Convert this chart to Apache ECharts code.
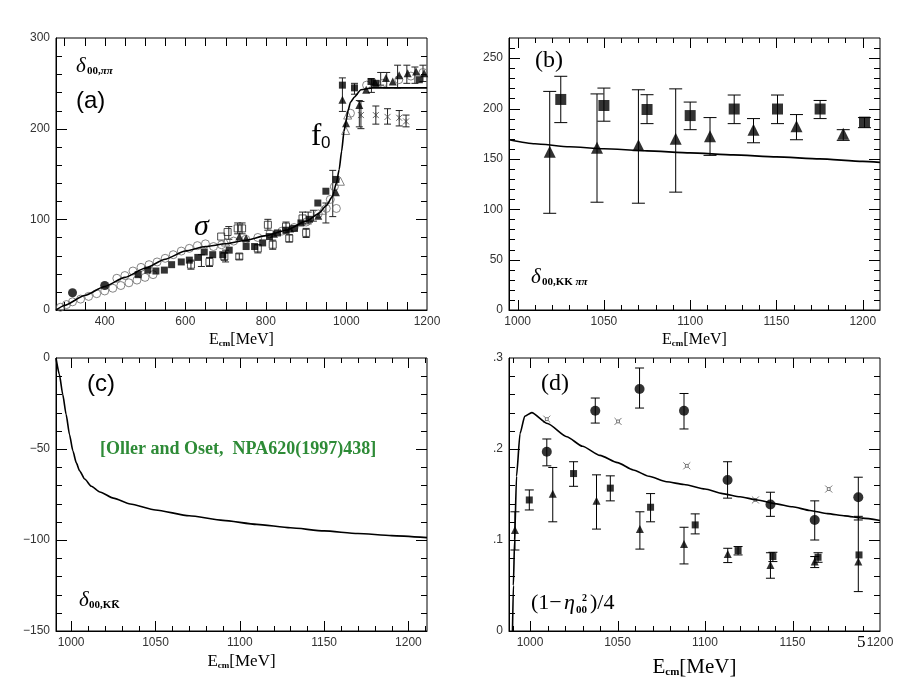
<!DOCTYPE html>
<html><head><meta charset="utf-8">
<script src="https://cdn.jsdelivr.net/npm/echarts@6/dist/echarts.min.js"></script>
<style>html,body{margin:0;padding:0;background:#fff}#c{width:920px;height:690px}</style>
</head><body><div id="c"></div>
<script>
// ---------------- DATA ----------------
// Panel (a): delta_00 pi pi
const aCurveE = [279,300,350,400,450,500,550,600,650,700,750,800,850,900,930,950,965,975,982,988,994,999,1004,1010,1020,1036,1065,1100,1150,1200];
const aCurveV = [0,5,16,26,36,46,56,65,70,73,77,82,88,98,106,115,125,140,155,175,197,208,220,229,235,243,245,245,245,245];
const aFilledCircles = [[320,19],[400,27]];
const aOpenCircles = [[290,3],[305,6],[320,9],[340,12],[360,15],[380,18],[400,21],[420,24],[440,27],[460,30],[480,33],[500,36],[520,39],
  [430,35],[450,38],[470,43],[490,47],[510,50],[530,53],[550,57],[570,61],[590,65],[610,68],[630,71],[650,73],[670,70],[690,72],[720,76],
  [750,78],[780,80],[810,84],[840,87],[870,91],[900,97],[930,106],[950,112],[960,122],[970,136],[975,112],[1010,217],[1050,248],[1090,250],
  [1130,254],[1160,258],[1190,262]];
const aFilledSquares = [[483,39],[507,44],[527,43],[548,44],[566,50],[590,53],[610,55],[631,58],[647,64],[668,61],[693,61],[709,66],[751,70],
  [772,70],[792,74],[809,81],[829,85],[850,88],[871,90],[887,96],[908,100],[929,118],[949,131],[974,144],[990,248],[1020,245],[1061,252],[1073,250],[1181,254]];
const aFilledTriangles = [[734,81],[751,79],[820,84],[860,90],[930,104],[974,130],[990,232],[999,206],[1032,226],[1049,243],[1071,251],
  [1098,256],[1115,252],[1131,259],[1152,261],[1173,263],[1193,261]];
const aOpenSquares = [[614,50],[660,53],[689,81],[697,59],[705,86],[730,90],[741,90],[734,59],[780,68],[805,94],[817,72],[850,92],[858,79],[891,101],[900,85]];
const aOpenTriangles = [[985,142],[998,198],[1003,215],[940,110],[700,75]];
const aCrosses = [[1036,215],[1073,215],[1102,213],[1131,212],[1148,208]];
const aErrBars = [[990,219,256],[1020,238,250],[1032,202,231],[966,103,154],[949,96,118],[905,95,108],[918,98,110],[1100,245,262],
  [1127,245,270],[1150,250,270],[1170,250,268],[1190,252,270],[1062,240,255],[1085,248,262],[708,78,92],[730,84,96],[741,84,96],
  [805,88,100],[850,85,97],[891,95,108],[614,45,55],[660,48,58],[697,55,63],[734,56,62],[780,63,72],[817,67,77],[858,75,83],[900,80,90],
  [700,53,66],[640,48,61],[1036,200,230],[1073,205,225],[1102,205,222],[1131,203,220],[1148,202,215]];

// Panel (b): delta_00 KK->pipi
const bCurveE = [995,1010,1030,1050,1075,1100,1125,1150,1175,1200,1210];
const bCurveV = [169,165,162,160,158,156,154,152,150,147.5,146.5];
const bTriangles = [[1018.6,157],[1046,161],[1070,163.5],[1091.6,170],[1111.5,172.4],[1136.7,179],[1161.6,182.3],[1188.7,175]];
const bTriErr = [[1018.6,96,217],[1046,107,214.5],[1070,106,218.6],[1091.6,117,219.5],[1111.5,153.5,191],[1136.7,166,190],[1161.6,169,194],[1188.7,168.4,179]];
const bSquares = [[1025,209],[1050,203],[1075,199],[1100,193],[1125.5,199.5],[1150.6,199.5],[1175.3,199.5],[1201,186.5]];
const bSqErr = [[1025,186,232],[1050,187.4,220.3],[1075,185,213.7],[1100,179,206.4],[1125.5,185,213.4],[1150.6,185,213.4],[1175.3,190,208],[1201,181,191]];

// Panel (c): delta_00 KKbar
const cCurveE = [991,993,995,997,999,1001,1003,1005,1008,1012,1017,1025,1035,1050,1070,1090,1110,1130,1150,1170,1190,1211];
const cCurveV = [0,-9,-20,-31,-42,-51,-57.5,-62,-66.5,-70.5,-73.6,-77,-80.2,-83.5,-86.7,-89.2,-91.4,-93.3,-95,-96.4,-97.6,-98.7];

// Panel (d): (1-eta^2)/4
const dCurveE = [990,990.5,991.2,992.3,994.3,997,1001,1010,1021,1030,1040,1050,1059,1068,1078,1088,1100,1110,1120,1130,1140,1150,1160,1170,1180,1190,1200];
const dCurveV = [0,0.05,0.1,0.17,0.217,0.236,0.240,0.228,0.2135,0.203,0.193,0.185,0.177,0.170,0.164,0.161,0.156,0.151,0.1475,0.144,0.140,0.1365,0.1325,0.129,0.1265,0.124,0.1215];
const dCircles = [[1009.6,0.197],[1037.3,0.242],[1062.6,0.266],[1088,0.242],[1112.9,0.166],[1137.4,0.139],[1162.7,0.122],[1187.6,0.147]];
const dCircErr = [[1009.6,0.1815,0.211],[1037.3,0.2285,0.256],[1062.6,0.245,0.289],[1088,0.222,0.261],[1112.9,0.146,0.186],[1137.4,0.126,0.1525],[1162.7,0.100,0.143],[1187.6,0.122,0.169]];
const dSquares = [[999.6,0.144],[1024.9,0.173],[1045.9,0.157],[1068.9,0.136],[1094.4,0.1166],[1118.9,0.0884],[1138.8,0.0818],[1164.6,0.081],[1188,0.0836]];
const dSqErr = [[999.6,0.133,0.155],[1024.9,0.159,0.186],[1045.9,0.143,0.1705],[1068.9,0.120,0.151],[1094.4,0.1067,0.1287],[1118.9,0.0836,0.0928],[1138.8,0.0763,0.0865],[1164.6,0.0755,0.086]];
const dTriangles = [[991.4,0.111],[1013,0.1507],[1038,0.143],[1062.8,0.112],[1088,0.0957],[1113,0.0847],[1137.4,0.0726],[1162.7,0.0763],[1187.6,0.0763]];
const dTriErr = [[991.4,0.089,0.131],[1013,0.120,0.1797],[1038,0.112,0.1716],[1062.8,0.090,0.131],[1088,0.0737,0.114],[1113,0.0752,0.0909],[1137.4,0.058,0.086],[1162.7,0.0697,0.0818],[1187.6,0.0433,0.126]];
const dStars = [[1009.6,0.2328],[1050.3,0.2303],[1089.6,0.1815],[1128.8,0.144],[1170.7,0.156]];

// tick label values
const aXLabels = [400,600,800,1000,1200], aYLabels = [0,100,200,300];
const bXLabels = [1000,1050,1100,1150,1200], bYLabels = [0,50,100,150,200,250];
const cXLabels = [1000,1050,1100,1150,1200], cYLabels = [-150,-100,-50,0];
const dXLabels = [1000,1050,1100,1150,1200], dYLabels = [0,0.1,0.2,0.3];

// ---------------- BUILD ----------------
function range(a,b,s){const r=[];for(let v=a;v<=b+1e-9;v+=s)r.push(+v.toFixed(6));return r;}
function zip(e,v){return e.map((x,i)=>[x,v[i]]);}

const black = '#000';
const labelStyle = {color:'#333', fontFamily:'Liberation Sans', fontSize:12};
const xAxes=[], yAxes=[];
function axName(size, sub){
  return {
    name:'{a|E}{b|cm}{a|[MeV]}', nameLocation:'middle', nameGap: size>18?26:22,
    nameTextStyle:{rich:{a:{fontFamily:'Liberation Serif', fontSize:size, color:'#000'},
                         b:{fontFamily:'Liberation Serif', fontSize:sub, fontWeight:'bold', color:'#000', padding:[size*0.45,0,0,0]}}}
  };
}
function addAxis(list, g, min, max, labels, pos, extra, fmt){
  list.push(Object.assign({type:'value', gridIndex:g, min, max, position:pos, splitLine:{show:false}, axisPointer:{show:false},
    axisLine:{show:true, onZero:false, lineStyle:{color:black, width:1}},
    axisTick:{show:false},
    axisLabel:Object.assign({show:true, customValues:labels, margin:6, formatter:fmt||(v=>String(v))}, labelStyle)}, extra||{}));
  return list.length-1;
}
const minusFmt = v => String(v).replace('-', '\u2212');
const dFmt = v => v===0 ? '0' : '.' + Math.round(v*10);

const ax0 = addAxis(xAxes,0,279,1200,aXLabels,'bottom',axName(16,9));
const ay0 = addAxis(yAxes,0,0,300,aYLabels,'left');
const ax1 = addAxis(xAxes,1,995,1210,bXLabels,'bottom',axName(16,9));
const ay1 = addAxis(yAxes,1,0,270,bYLabels,'left');
const ax2 = addAxis(xAxes,2,991,1211,cXLabels,'bottom',axName(17,9));
const ay2 = addAxis(yAxes,2,-150,0,cYLabels,'left',null,minusFmt);
const ax3 = addAxis(xAxes,3,988,1200,dXLabels,'bottom',axName(21,11));
const ay3 = addAxis(yAxes,3,0,0.3,dYLabels,'left',null,dFmt);

// inward ticks on all four sides, placed through the axes' scales
function tickSeries(xi, yi, dim, values, other, len){
  return {type:'custom', xAxisIndex:xi, yAxisIndex:yi, silent:true, z:2,
    data: values.map(v => dim==='x' ? [v, other] : [other, v]),
    encode: {x:0, y:1},
    renderItem:(params, api)=>{
      const cs = params.coordSys;
      const p = api.coord([api.value(0), api.value(1)]);
      const st = {stroke:black, lineWidth:1};
      if (dim==='x'){
        const x = Math.round(p[0])+0.5, yb = cs.y+cs.height, yt = cs.y;
        return {type:'group', children:[
          {type:'line', shape:{x1:x,y1:yb,x2:x,y2:yb-len}, style:st},
          {type:'line', shape:{x1:x,y1:yt,x2:x,y2:yt+len}, style:st}]};
      } else {
        const y = Math.round(p[1])+0.5, xl = cs.x, xr = cs.x+cs.width;
        return {type:'group', children:[
          {type:'line', shape:{x1:xl,y1:y,x2:xl+len,y2:y}, style:st},
          {type:'line', shape:{x1:xr,y1:y,x2:xr-len,y2:y}, style:st}]};
      }
    }};
}

function errSeries(data, xi, yi, cap, color){
  return {type:'custom', xAxisIndex:xi, yAxisIndex:yi, data, encode:{x:0, y:[1,2]}, z:3, silent:true,
    renderItem:(params, api)=>{
      const x=api.value(0), lo=api.value(1), hi=api.value(2);
      const p1=api.coord([x,lo]), p2=api.coord([x,hi]);
      const st={stroke:color||black, lineWidth:1};
      return {type:'group', children:[
        {type:'line', shape:{x1:p1[0],y1:p1[1],x2:p2[0],y2:p2[1]}, style:st},
        {type:'line', shape:{x1:p1[0]-cap/2,y1:p1[1],x2:p1[0]+cap/2,y2:p1[1]}, style:st},
        {type:'line', shape:{x1:p2[0]-cap/2,y1:p2[1],x2:p2[0]+cap/2,y2:p2[1]}, style:st}
      ]};
    }};
}
function scat(data, xi, yi, symbol, size, style, z){
  return {type:'scatter', xAxisIndex:xi, yAxisIndex:yi, data, symbol, symbolSize:size, itemStyle:style, z:z||4, silent:true};
}
function curve(e, v, xi, yi, w){
  return {type:'line', xAxisIndex:xi, yAxisIndex:yi, data:zip(e,v), showSymbol:false, smooth:0.2, smoothMonotone:'x',
          lineStyle:{color:black, width:w||1.6}, z:5, silent:true};
}
const fill = {color:black};
const hollowGray = {color:'rgba(0,0,0,0)', borderColor:'#666', borderWidth:1};
const hollowBlack = {color:'rgba(0,0,0,0)', borderColor:'#222', borderWidth:1};
const crossPath = 'path://M0,0L10,10M10,0L0,10M5,0L5,10';
const starPath = 'path://M3,3L7,3L7,7L3,7Z M0,0L3,3 M10,0L7,3 M10,10L7,7 M0,10L3,7';

const series = [
  // ticks
  tickSeries(ax0, ay0, 'x', range(300,1150,50), 0, 8),
  tickSeries(ax0, ay0, 'y', range(100,200,100), 279, 11),
  tickSeries(ax0, ay0, 'y', range(20,280,20), 279, 6),
  tickSeries(ax1, ay1, 'x', range(1000,1200,50), 0, 10),
  tickSeries(ax1, ay1, 'x', range(1010,1200,10), 0, 5),
  tickSeries(ax1, ay1, 'y', range(50,250,50), 995, 11),
  tickSeries(ax1, ay1, 'y', range(10,260,10), 995, 6),
  tickSeries(ax2, ay2, 'x', range(1000,1200,50), -150, 10),
  tickSeries(ax2, ay2, 'x', range(1010,1210,10), -150, 5),
  tickSeries(ax2, ay2, 'y', range(-100,-50,50), 991, 11),
  tickSeries(ax2, ay2, 'y', range(-140,-10,10), 991, 6),
  tickSeries(ax3, ay3, 'x', range(1000,1150,50), 0, 10),
  tickSeries(ax3, ay3, 'x', range(990,1190,10), 0, 5),
  tickSeries(ax3, ay3, 'y', [0.1,0.2], 988, 11),
  tickSeries(ax3, ay3, 'y', range(0.02,0.28,0.02), 988, 6),
  // (a)
  errSeries(aErrBars, ax0, ay0, 7, '#222'),
  scat(aOpenCircles, ax0, ay0, 'circle', 8, hollowGray),
  scat(aOpenSquares, ax0, ay0, 'rect', 7, hollowBlack),
  scat(aOpenTriangles, ax0, ay0, 'triangle', 8, hollowGray),
  scat(aCrosses, ax0, ay0, crossPath, 6, {color:'rgba(0,0,0,0)', borderColor:'#444', borderWidth:1}),
  scat(aFilledSquares, ax0, ay0, 'rect', 7, fill),
  scat(aFilledTriangles, ax0, ay0, 'triangle', 8, fill),
  scat(aFilledCircles, ax0, ay0, 'circle', 9, fill),
  curve(aCurveE, aCurveV, ax0, ay0, 1.6),
  // (b)
  errSeries(bTriErr, ax1, ay1, 13),
  errSeries(bSqErr, ax1, ay1, 13),
  scat(bTriangles, ax1, ay1, 'triangle', 12, fill),
  scat(bSquares, ax1, ay1, 'rect', 11, fill),
  curve(bCurveE, bCurveV, ax1, ay1, 1.6),
  // (c)
  curve(cCurveE, cCurveV, ax2, ay2, 1.6),
  // (d)
  errSeries(dCircErr, ax3, ay3, 9),
  errSeries(dSqErr, ax3, ay3, 9),
  errSeries(dTriErr, ax3, ay3, 9),
  scat(dCircles, ax3, ay3, 'circle', 10, fill),
  scat(dSquares, ax3, ay3, 'rect', 7, fill),
  scat(dTriangles, ax3, ay3, 'triangle', 8, fill),
  scat(dStars, ax3, ay3, starPath, 7, {color:'rgba(0,0,0,0)', borderColor:'#555', borderWidth:1}),
  curve(dCurveE, dCurveV, ax3, ay3, 1.6)
];

function txt(x, y, text, font, extra){
  return {type:'text', x, y, z:100, style:Object.assign({text, font, fill:'#000', textAlign:'left', textVerticalAlign:'top'}, extra||{})};
}
const subRich = {n:{font:'bold 11px "Liberation Serif"', fill:'#000'}, p:{font:'italic bold 11px "Liberation Serif"', fill:'#000'}};
const graphic = [
  // (a)
  txt(76, 56, '\u03b4', 'italic 21px "Liberation Serif"'),
  txt(87, 66, '{n|00,}{p|\u03c0\u03c0}', '', {rich:subRich}),
  txt(76, 89, '(a)', '24px "Liberation Sans"'),
  txt(311, 121, 'f', '31px "Liberation Serif"'),
  txt(321, 135, '0', '17px "Liberation Sans"'),
  txt(194, 212, '\u03c3', 'italic 30px "Liberation Serif"'),
  // (b)
  txt(531, 267, '\u03b4', 'italic 21px "Liberation Serif"'),
  txt(542, 277, '{n|00,KK }{p|\u03c0\u03c0}', '', {rich:subRich}),
  txt(535, 49, '(b)', '24px "Liberation Serif"'),
  // (c)
  txt(87, 372, '(c)', '24px "Liberation Sans"'),
  txt(79, 590, '\u03b4', 'italic 21px "Liberation Serif"'),
  txt(89, 600, '{n|00,KK\u0305}', '', {rich:subRich}),
  txt(100, 440, '[Oller and Oset,  NPA620(1997)438]', 'bold 18px "Liberation Serif"', {fill:'#2e8b37'}),
  // (d)
  txt(541, 372, '(d)', '24px "Liberation Serif"'),
  txt(531, 592, '(1\u2212', '22px "Liberation Serif"'),
  txt(564, 592, '\u03b7', 'italic 22px "Liberation Serif"'),
  txt(582, 593, '2', 'bold 10px "Liberation Serif"'),
  txt(576, 605, '00', 'bold 11px "Liberation Serif"'),
  txt(590, 592, ')/4', '22px "Liberation Serif"'),
  txt(857, 634, '5', '17px "Liberation Serif"')
];

const chart = echarts.init(document.getElementById('c'), null, {renderer:'canvas'});
chart.setOption({
  animation:false,
  backgroundColor:'#fff',
  grid:[
    {left:56, top:38, width:371, height:272, show:true, borderColor:black, borderWidth:1, backgroundColor:'rgba(0,0,0,0)'},
    {left:509, top:38, width:371, height:272, show:true, borderColor:black, borderWidth:1, backgroundColor:'rgba(0,0,0,0)'},
    {left:56, top:358, width:371, height:273, show:true, borderColor:black, borderWidth:1, backgroundColor:'rgba(0,0,0,0)'},
    {left:509, top:358, width:371, height:273, show:true, borderColor:black, borderWidth:1, backgroundColor:'rgba(0,0,0,0)'}
  ],
  xAxis:xAxes, yAxis:yAxes, series, graphic
});
</script></body></html>
